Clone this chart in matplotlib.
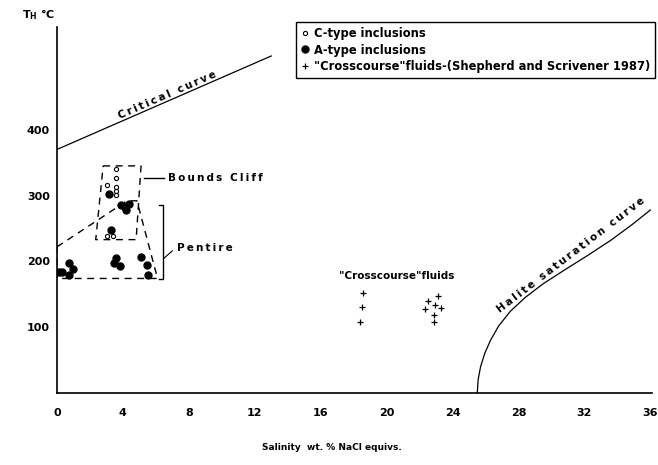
import numpy as np
import matplotlib
matplotlib.use("Agg")
import matplotlib.pyplot as plt

# ---------------- data ----------------
x_ticks = [0, 4, 8, 12, 16, 20, 24, 28, 32, 36]
y_ticks = [100, 200, 300, 400]

# C-type inclusions (open circles)
c_x = [3.6, 3.6, 3.05, 3.6, 3.6, 3.6, 3.05, 3.4]
c_y = [340, 327, 316, 313, 307, 301, 238, 238]

# A-type inclusions (filled circles)
a_x = [0.1, 0.3, 0.7, 0.75, 1.0, 3.45, 3.55, 3.8, 5.1, 5.45, 5.5,
       3.9, 4.15, 4.35, 4.2, 3.15, 3.25]
a_y = [184, 184, 197, 180, 189, 198, 205, 193, 207, 194, 179,
       286, 283, 287, 278, 303, 248]

# "Crosscourse" fluids (Shepherd and Scrivener 1987)
cc_x = [18.55, 18.48, 18.4, 23.13, 22.52, 22.93, 22.32, 23.27, 22.88, 22.87]
cc_y = [152, 130, 108, 148, 140, 134, 128, 129, 119, 108]

# Critical curve
crit_x = [0, 13.0]
crit_y = [370, 512]

# Halite saturation curve
hal_x = [25.5, 25.55, 25.7, 25.95, 26.3, 26.8, 27.5, 28.4, 29.5, 30.8, 32.2, 33.6, 34.9, 36.0]
hal_y = [0, 20, 40, 60, 80, 102, 124, 145, 166, 187, 209, 232, 256, 278]

# Field outlines
bounds_x = [2.8, 5.1, 4.8, 2.35, 2.8]
bounds_y = [345, 345, 233, 233, 345]
pentire_x = [0, 4.25, 4.85, 6.1, 0, 0]
pentire_y = [222, 292, 292, 174, 174, 222]

SP = "\u2009"  # thin space used for the letter-spaced lettering


def spaced(s):
    return SP.join(s)


# ---------------- figure ----------------
W, H = 658, 465
fig = plt.figure(figsize=(W / 100, H / 100), dpi=100)
ax = fig.add_axes([57 / W, 1 - 393 / H, (652 - 57) / W, (393 - 27) / H])
ax.set_xlim(0, 36.1)
ax.set_ylim(0, 556)

for s in ("top", "right"):
    ax.spines[s].set_visible(False)
for s in ("left", "bottom"):
    ax.spines[s].set_linewidth(1.2)

ax.set_xticks(x_ticks)
ax.set_yticks(y_ticks)
ax.set_xticklabels([str(v) for v in x_ticks], fontsize=8, fontweight="bold")
ax.set_yticklabels([str(v) for v in y_ticks], fontsize=8, fontweight="bold")
ax.tick_params(axis="x", length=0, pad=11)
ax.tick_params(axis="y", length=0, pad=5)

# curves
ax.plot(crit_x, crit_y, color="black", lw=0.9)
ax.plot(hal_x, hal_y, color="black", lw=0.9)

# outlines
ax.plot(bounds_x, bounds_y, color="black", lw=1.0, ls=(0, (5, 4)))
ax.plot(pentire_x, pentire_y, color="black", lw=1.0, ls=(0, (5, 4)))

# points
ax.plot(c_x, c_y, ls="none", marker="o", ms=3, mfc="white", mec="black", mew=0.8,
        label="C-type inclusions")
ax.plot(a_x, a_y, ls="none", marker="o", ms=5, mfc="black", mec="black",
        label="A-type inclusions")
ax.plot(cc_x, cc_y, ls="none", marker="+", ms=4, mec="black", mew=0.9,
        label='"Crosscourse"fluids-(Shepherd and Scrivener 1987)')

# Bounds Cliff label + leader
ax.plot([5.25, 6.5], [327, 327], color="black", lw=1.0)
ax.text(6.75, 327, spaced("Bounds Cliff"), fontsize=7.5, fontweight="bold",
        va="center", ha="left")

# Pentire bracket + leader + label
ax.plot([6.2, 6.45, 6.45, 6.2], [286, 286, 173, 173], color="black", lw=1.0)
ax.plot([6.5, 7.0], [205, 216], color="black", lw=0.8)
ax.text(7.3, 220, spaced("Pentire"), fontsize=7.5, fontweight="bold",
        va="center", ha="left")

# Crosscourse fluids label
ax.text(20.6, 178, '"Crosscourse"fluids', fontsize=7.5, fontweight="bold",
        va="center", ha="center")

# rotated curve labels
fig.canvas.draw()


def disp_angle(x0, y0, x1, y1):
    p0 = ax.transData.transform((x0, y0))
    p1 = ax.transData.transform((x1, y1))
    return np.degrees(np.arctan2(p1[1] - p0[1], p1[0] - p0[0]))


ang_c = disp_angle(crit_x[0], crit_y[0], crit_x[1], crit_y[1])
ax.text(6.7, 453, spaced("Critical curve"), fontsize=7.5, fontweight="bold",
        rotation=ang_c, ha="center", va="center", rotation_mode="anchor")
ang_h = disp_angle(26.8, 102, 36.0, 278)
ax.text(31.2, 210, spaced("Halite saturation curve"), fontsize=7.5, fontweight="bold",
        rotation=ang_h, ha="center", va="center", rotation_mode="anchor")

# axis titles
fig.text(22 / W, 1 - 15 / H, r"T$_{\mathbf{H}}$ °C", fontsize=8, fontweight="bold",
         ha="left", va="center")
fig.text(332 / W, 1 - 447 / H, "Salinity  wt. % NaCl equivs.", fontsize=6.5,
         fontweight="bold", ha="center", va="center")

# legend
leg = ax.legend(loc="upper right", bbox_to_anchor=(655 / W, 1 - 22 / H),
                bbox_transform=fig.transFigure, frameon=True, fancybox=False,
                edgecolor="black", framealpha=1, borderpad=0.42, handlelength=0.7,
                handletextpad=0.45, labelspacing=0.32, borderaxespad=0,
                prop={"size": 8.3, "weight": "bold"})
leg.get_frame().set_linewidth(1.0)

fig.savefig("out.png", dpi=100)
